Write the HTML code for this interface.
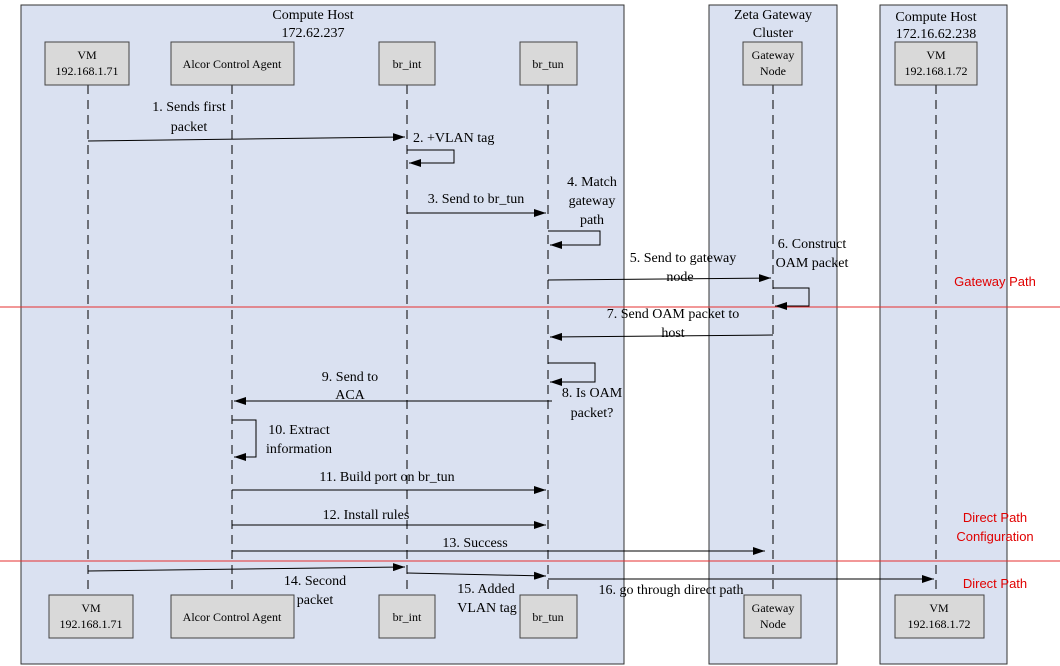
<!DOCTYPE html>
<html><head><meta charset="utf-8"><style>
html,body{margin:0;padding:0;background:#fff;}
svg{display:block;font-family:"Liberation Serif",serif;}
.t{font-size:14px;fill:#000;}
.b{font-size:12px;fill:#000;}
.r{font-family:"Liberation Sans",sans-serif;font-size:13px;fill:#e00000;}
</style></head><body>
<svg width="1060" height="666" viewBox="0 0 1060 666" xmlns="http://www.w3.org/2000/svg">
<defs>
<marker id="a" markerWidth="12" markerHeight="8" refX="12" refY="4" orient="auto" markerUnits="userSpaceOnUse">
<path d="M0,0 L12,4 L0,8 z" fill="#000"/></marker>
</defs>
<!-- containers -->
<rect x="21" y="5" width="603" height="659" fill="#dae1f1" stroke="#333" stroke-width="1"/>
<rect x="709" y="5" width="128" height="659" fill="#dae1f1" stroke="#333" stroke-width="1"/>
<rect x="880" y="5" width="127" height="659" fill="#dae1f1" stroke="#333" stroke-width="1"/>
<text class="t" x="313" y="19" text-anchor="middle">Compute Host</text>
<text class="t" x="313" y="37" text-anchor="middle">172.62.237</text>
<text class="t" x="773" y="19" text-anchor="middle">Zeta Gateway</text>
<text class="t" x="773" y="37" text-anchor="middle">Cluster</text>
<text class="t" x="936" y="21" text-anchor="middle">Compute Host</text>
<text class="t" x="936" y="38" text-anchor="middle">172.16.62.238</text>
<!-- lifelines -->
<g stroke="#000" stroke-width="1" stroke-dasharray="9,6">
<line x1="88" y1="85" x2="88" y2="596"/>
<line x1="232" y1="85" x2="232" y2="596"/>
<line x1="407" y1="85" x2="407" y2="596"/>
<line x1="548" y1="85" x2="548" y2="596"/>
<line x1="773" y1="85" x2="773" y2="596"/>
<line x1="936" y1="85" x2="936" y2="596"/>
</g>
<!-- top boxes -->
<g fill="#d9d9d9" stroke="#444">
<rect x="45" y="42" width="84" height="43"/>
<rect x="171" y="42" width="123" height="43"/>
<rect x="379" y="42" width="56" height="43"/>
<rect x="520" y="42" width="57" height="43"/>
<rect x="743" y="42" width="59" height="43"/>
<rect x="895" y="42" width="82" height="43"/>
<rect x="49" y="595" width="84" height="43"/>
<rect x="171" y="595" width="123" height="43"/>
<rect x="379" y="595" width="56" height="43"/>
<rect x="520" y="595" width="57" height="43"/>
<rect x="744" y="595" width="57" height="43"/>
<rect x="895" y="595" width="89" height="43"/>
</g>
<g class="b" text-anchor="middle">
<text x="87" y="59">VM</text><text x="87" y="75">192.168.1.71</text>
<text x="232" y="68">Alcor Control Agent</text>
<text x="407" y="68">br_int</text>
<text x="548" y="68">br_tun</text>
<text x="773" y="59">Gateway</text><text x="773" y="75">Node</text>
<text x="936" y="59">VM</text><text x="936" y="75">192.168.1.72</text>
<text x="91" y="612">VM</text><text x="91" y="628">192.168.1.71</text>
<text x="232" y="621">Alcor Control Agent</text>
<text x="407" y="621">br_int</text>
<text x="548" y="621">br_tun</text>
<text x="773" y="612">Gateway</text><text x="773" y="628">Node</text>
<text x="939" y="612">VM</text><text x="939" y="628">192.168.1.72</text>
</g>
<!-- red lines -->
<line x1="0" y1="307" x2="1060" y2="307" stroke="#e53030" stroke-width="1"/>
<line x1="0" y1="561" x2="1060" y2="561" stroke="#e53030" stroke-width="1"/>
<!-- messages -->
<g stroke="#000" stroke-width="1" fill="none">
<line x1="88" y1="141" x2="405" y2="137" marker-end="url(#a)"/>
<polyline points="407,150 454,150 454,163 409,163" marker-end="url(#a)"/>
<line x1="407" y1="213" x2="546" y2="213" marker-end="url(#a)"/>
<polyline points="548,231 600,231 600,245 550,245" marker-end="url(#a)"/>
<line x1="548" y1="280" x2="771" y2="278" marker-end="url(#a)"/>
<polyline points="773,288 809,288 809,306 775,306" marker-end="url(#a)"/>
<line x1="773" y1="335" x2="550" y2="337" marker-end="url(#a)"/>
<polyline points="548,363 595,363 595,382 550,382" marker-end="url(#a)"/>
<line x1="552" y1="401" x2="234" y2="401" marker-end="url(#a)"/>
<polyline points="232,420 256,420 256,457 234,457" marker-end="url(#a)"/>
<line x1="232" y1="490" x2="546" y2="490" marker-end="url(#a)"/>
<line x1="232" y1="525" x2="546" y2="525" marker-end="url(#a)"/>
<line x1="232" y1="551" x2="765" y2="551" marker-end="url(#a)"/>
<line x1="88" y1="571" x2="405" y2="567" marker-end="url(#a)"/>
<line x1="407" y1="573" x2="546" y2="576" marker-end="url(#a)"/>
<line x1="548" y1="579" x2="934" y2="579" marker-end="url(#a)"/>
</g>
<g class="t" text-anchor="middle">
<text x="189" y="111">1. Sends first</text><text x="189" y="131">packet</text>
<text x="413" y="142" text-anchor="start">2. +VLAN tag</text>
<text x="476" y="203">3. Send to br_tun</text>
<text x="592" y="186">4. Match</text><text x="592" y="205">gateway</text><text x="592" y="224">path</text>
<text x="683" y="262">5. Send to gateway</text><text x="680" y="281">node</text>
<text x="812" y="248">6. Construct</text><text x="812" y="267">OAM packet</text>
<text x="673" y="318">7. Send OAM packet to</text><text x="673" y="337">host</text>
<text x="592" y="397">8. Is OAM</text><text x="592" y="417">packet?</text>
<text x="350" y="381">9. Send to</text><text x="350" y="399">ACA</text>
<text x="299" y="434">10. Extract</text><text x="299" y="453">information</text>
<text x="387" y="481">11. Build port on br_tun</text>
<text x="366" y="519">12. Install rules</text>
<text x="475" y="547">13. Success</text>
<text x="315" y="585">14. Second</text><text x="315" y="604">packet</text>
<text x="486" y="593">15. Added</text><text x="487" y="612">VLAN tag</text>
<text x="671" y="594">16. go through direct path</text>
</g>
<g class="r" text-anchor="middle">
<text x="995" y="286">Gateway Path</text>
<text x="995" y="522">Direct Path</text>
<text x="995" y="541">Configuration</text>
<text x="995" y="588">Direct Path</text>
</g>
</svg>
</body></html>
